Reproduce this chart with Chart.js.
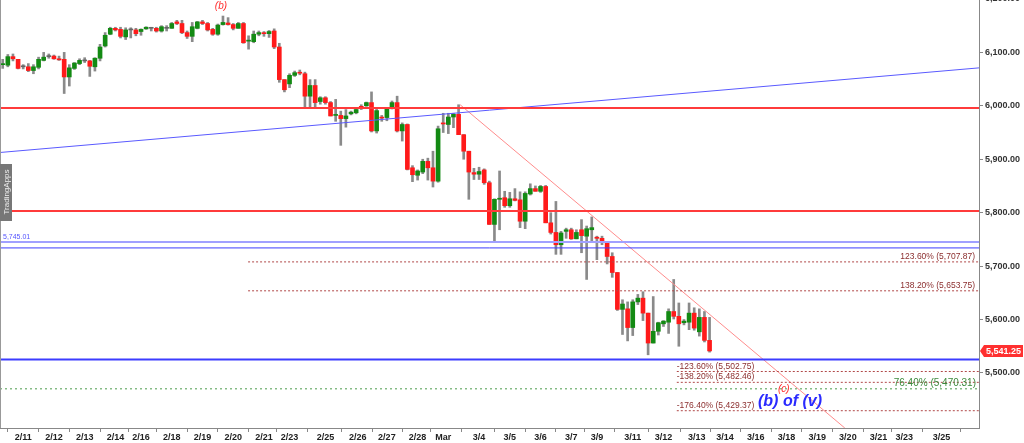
<!DOCTYPE html>
<html>
<head>
<meta charset="utf-8">
<script src="https://cdn.jsdelivr.net/npm/chart.js@4.4.1/dist/chart.umd.min.js"></script>
<style>
  html, body { margin: 0; padding: 0; background: #fff; }
  canvas { display: block; }
</style>
</head>
<body>
<canvas id="myChart" width="1024" height="443"></canvas>
<script>
// 4h candles, 2/11 -> 3/13
const opens = [6077, 6076, 6092, 6087, 6073, 6073, 6066, 6072, 6085, 6092,
  6093, 6088, 6087, 6054, 6070, 6079, 6084, 6084, 6073, 6089,
  6112, 6134, 6145, 6143, 6129, 6142, 6142, 6139, 6144, 6145,
  6145, 6140, 6145, 6145, 6157, 6154, 6137, 6130, 6145, 6157,
  6154, 6143, 6134, 6152, 6155, 6152, 6145, 6154, 6121, 6120,
  6134, 6136, 6135, 6140, 6110, 6049, 6041, 6057, 6062, 6060,
  6018, 6038, 6008, 6015, 6006, 5982, 5982, 5976, 5985, 5987,
  5999, 6000, 6006, 5953, 5978, 5978, 5996, 6006, 5953, 5965,
  5884, 5870, 5876, 5896, 5884, 5859, 5968, 5965, 5979, 5984,
  5946, 5915, 5875, 5872, 5880, 5856, 5778, 5825, 5828, 5813,
  5826, 5824, 5784, 5835, 5845, 5840, 5849, 5781, 5763, 5740,
  5765, 5768, 5751, 5768, 5756, 5768, 5754, 5752, 5744, 5718,
  5688, 5619, 5620, 5585, 5633, 5640, 5612, 5556, 5578, 5592,
  5595, 5615, 5606, 5594, 5595, 5612, 5577, 5604, 5561];
const highs = [6087, 6096, 6097, 6087, 6077, 6079, 6077, 6091, 6100, 6097,
  6095, 6093, 6100, 6077, 6081, 6088, 6090, 6085, 6090, 6115,
  6137, 6147, 6147, 6147, 6146, 6146, 6145, 6144, 6148, 6147,
  6147, 6150, 6150, 6156, 6160, 6160, 6140, 6156, 6158, 6160,
  6156, 6145, 6153, 6168, 6165, 6154, 6156, 6156, 6131, 6140,
  6140, 6139, 6141, 6144, 6117, 6049, 6060, 6065, 6067, 6063,
  6049, 6049, 6017, 6017, 6008, 6012, 5990, 5993, 5990, 5996,
  6002, 6007, 6026, 5995, 5982, 5996, 6009, 6018, 5968, 5966,
  5888, 5880, 5900, 5902, 5915, 5962, 5986, 5986, 5986, 6002,
  5946, 5915, 5883, 5885, 5882, 5859, 5826, 5878, 5840, 5838,
  5845, 5839, 5839, 5854, 5850, 5851, 5851, 5800, 5821, 5765,
  5771, 5771, 5768, 5787, 5775, 5792, 5756, 5756, 5745, 5725,
  5688, 5637, 5633, 5637, 5647, 5652, 5612, 5643, 5595, 5598,
  5620, 5675, 5631, 5600, 5631, 5622, 5620, 5615, 5604];
const lows = [6070, 6073, 6084, 6069, 6069, 6064, 6060, 6069, 6084, 6089,
  6087, 6085, 6023, 6037, 6068, 6077, 6081, 6055, 6065, 6084,
  6110, 6133, 6140, 6127, 6124, 6127, 6131, 6132, 6143, 6140,
  6138, 6138, 6140, 6145, 6152, 6135, 6126, 6120, 6144, 6152,
  6140, 6132, 6132, 6151, 6151, 6142, 6145, 6117, 6106, 6118,
  6131, 6130, 6128, 6107, 6044, 6026, 6034, 6055, 6058, 5998,
  5998, 5998, 6003, 6003, 5981, 5971, 5926, 5960, 5983, 5985,
  5993, 5999, 5951, 5949, 5971, 5972, 5994, 5951, 5934, 5880,
  5858, 5861, 5873, 5861, 5848, 5857, 5950, 5948, 5959, 5946,
  5900, 5825, 5862, 5862, 5853, 5778, 5745, 5768, 5810, 5810,
  5822, 5772, 5770, 5833, 5840, 5838, 5781, 5760, 5722, 5722,
  5752, 5750, 5751, 5725, 5675, 5746, 5712, 5740, 5704, 5679,
  5617, 5572, 5560, 5570, 5628, 5598, 5534, 5556, 5571, 5587,
  5574, 5601, 5550, 5590, 5581, 5580, 5569, 5558, 5539];
const closes = [6078, 6092, 6088, 6070, 6073, 6066, 6073, 6087, 6091, 6092,
  6088, 6086, 6054, 6071, 6080, 6085, 6084, 6074, 6089, 6110,
  6132, 6145, 6142, 6130, 6142, 6142, 6135, 6143, 6147, 6145,
  6140, 6148, 6145, 6154, 6154, 6137, 6130, 6148, 6157, 6154,
  6142, 6134, 6151, 6156, 6152, 6145, 6154, 6118, 6122, 6134,
  6137, 6135, 6139, 6110, 6049, 6030, 6057, 6062, 6061, 6018,
  6038, 6006, 6015, 6006, 5981, 5983, 5976, 5981, 5988, 5993,
  5995, 6006, 5953, 5991, 5977, 5994, 6006, 5953, 5965, 5881,
  5871, 5878, 5896, 5884, 5859, 5957, 5966, 5979, 5984, 5946,
  5915, 5876, 5872, 5877, 5856, 5778, 5825, 5827, 5813, 5826,
  5823, 5784, 5836, 5845, 5840, 5849, 5781, 5763, 5740, 5762,
  5768, 5751, 5763, 5757, 5770, 5772, 5752, 5744, 5718, 5688,
  5619, 5629, 5585, 5633, 5640, 5612, 5556, 5578, 5594, 5597,
  5615, 5606, 5592, 5597, 5612, 5584, 5604, 5561, 5541.25];

// date ticks, in candle-slot units
const tickPos = [4, 10, 16, 22, 27, 33, 39, 45, 51, 56, 63, 69.3, 75, 81, 86, 93, 99, 105, 111, 116,
  123, 129, 135.5, 141, 147, 153, 159, 165, 171, 176, 183.3];
const tickLabels = ['2/11', '2/12', '2/13', '2/14', '2/16', '2/18', '2/19', '2/20', '2/21', '2/23', '2/25',
  '2/26', '2/27', '2/28', 'Mar', '3/4', '3/5', '3/6', '3/7', '3/9', '3/11', '3/12', '3/13', '3/14',
  '3/16', '3/18', '3/19', '3/20', '3/21', '3/23', '3/25'];
const priceTicks = [5500, 5600, 5700, 5800, 5900, 6000, 6100, 6200];

// drawn levels
const redLevels = [5996, 5803];
const blueLevels = [5745.01, 5734, 5525];
const fibUpper = [5707.87, 5653.75];
const fibUpperPct = ['123.60%', '138.20%'];
const fibLower = [5502.75, 5482.46, 5429.37];
const fibLowerPct = ['-123.60%', '-138.20%', '-176.40%'];
const greenLevel = 5470.31;
const greenPct = '76.40%';
const blueTrend = [{x: -0.53, y: 5912.6}, {x: 190.6, y: 6071}];
const redTrend = [{x: 89.3, y: 6002}, {x: 164.4, y: 5397}];

const X_MIN = -0.53, X_MAX = 190.6;
const UP = '#138a13', DOWN = '#ff1a1a';

const fmt = (v) => v.toLocaleString('en-US', {minimumFractionDigits: 2, maximumFractionDigits: 2});
const candleColor = opens.map((o, i) => closes[i] > o ? UP : closes[i] < o ? DOWN : '#666');

const hline = (level, from, color, width, dash) => ({
  type: 'line',
  data: [{x: from, y: level}, {x: X_MAX, y: level}],
  borderColor: color,
  borderWidth: width,
  borderDash: dash || [],
  pointRadius: 0,
  order: 0
});

const datasets = [
  {
    type: 'bar',
    data: lows.map((l, i) => ({x: i, y: [l, highs[i]]})),
    backgroundColor: '#8a8a8a',
    barThickness: 2,
    order: 3
  },
  {
    type: 'bar',
    data: opens.map((o, i) => ({x: i, y: [o, closes[i]]})),
    backgroundColor: candleColor,
    barThickness: 4,
    minBarLength: 1,
    order: 2
  },
  hline(redLevels[0], X_MIN, '#ff3b3b', 2),
  hline(redLevels[1], X_MIN, '#ff3b3b', 2),
  hline(blueLevels[0], X_MIN, '#a0a0ff', 2),
  hline(blueLevels[1], X_MIN, '#3c3cff', 1),
  hline(blueLevels[2], X_MIN, '#3c3cff', 2),
  hline(fibUpper[0], 47.9, '#b04848', 1, [2, 2]),
  hline(fibUpper[1], 47.9, '#b04848', 1, [2, 2]),
  hline(fibLower[0], 131.6, '#b04848', 1, [2, 2]),
  hline(fibLower[1], 131.6, '#b04848', 1, [2, 2]),
  hline(fibLower[2], 131.6, '#b04848', 1, [2, 2]),
  hline(greenLevel, X_MIN, '#4a9a4a', 1, [2, 3]),
  {type: 'line', data: blueTrend, borderColor: '#5a5aff', borderWidth: 1, pointRadius: 0, order: 0},
  {type: 'line', data: redTrend, borderColor: '#ff8c8c', borderWidth: 1, pointRadius: 0, order: 0}
];

const overlay = {
  id: 'overlay',
  afterDraw(chart) {
    const {ctx, chartArea: a, scales: {x, y}} = chart;
    ctx.save();
    // left frame
    ctx.strokeStyle = '#999';
    ctx.lineWidth = 1;
    ctx.beginPath();
    ctx.moveTo(0.5, 0);
    ctx.lineTo(0.5, a.bottom);
    ctx.stroke();

    ctx.textBaseline = 'bottom';
    ctx.font = "8.5px 'Liberation Sans', Arial, sans-serif";
    ctx.fillStyle = '#8b2e2e';
    ctx.textAlign = 'right';
    fibUpper.forEach((v, i) => {
      ctx.fillText(fibUpperPct[i] + ' (' + fmt(v) + ')', a.right - 4, y.getPixelForValue(v) - 1);
    });
    ctx.textAlign = 'left';
    fibLower.forEach((v, i) => {
      ctx.fillText(fibLowerPct[i] + ' (' + fmt(v) + ')', x.getPixelForValue(131.6), y.getPixelForValue(v) - 1);
    });
    ctx.font = "10px 'Liberation Sans', Arial, sans-serif";
    ctx.fillStyle = '#3c8a3c';
    ctx.textAlign = 'right';
    ctx.fillText(greenPct + ' (' + fmt(greenLevel) + ')', a.right - 3, y.getPixelForValue(greenLevel) - 1);

    ctx.font = "7px 'Liberation Sans', Arial, sans-serif";
    ctx.fillStyle = '#5555ff';
    ctx.textAlign = 'left';
    ctx.fillText(fmt(blueLevels[0]), 3, y.getPixelForValue(blueLevels[0]) - 1);

    // wave labels
    ctx.textAlign = 'center';
    ctx.textBaseline = 'middle';
    ctx.font = "italic 10px 'Liberation Sans', Arial, sans-serif";
    ctx.fillStyle = '#ff3030';
    ctx.fillText('(b)', x.getPixelForValue(42.6), y.getPixelForValue(6187));
    ctx.fillText('(c)', x.getPixelForValue(152.5), y.getPixelForValue(5470));
    ctx.font = "bold italic 16px 'Liberation Sans', Arial, sans-serif";
    ctx.fillStyle = '#2a2aff';
    ctx.fillText('(b) of (v)', x.getPixelForValue(153.7), y.getPixelForValue(5446));

    // last price tag
    const last = closes[closes.length - 1];
    const py = Math.round(y.getPixelForValue(last));
    ctx.fillStyle = '#ff3030';
    ctx.beginPath();
    ctx.moveTo(a.right + 1, py);
    ctx.lineTo(a.right + 5, py - 6);
    ctx.lineTo(1023, py - 6);
    ctx.lineTo(1023, py + 6);
    ctx.lineTo(a.right + 5, py + 6);
    ctx.closePath();
    ctx.fill();
    ctx.fillStyle = '#fff';
    ctx.font = "bold 9px 'Liberation Sans', Arial, sans-serif";
    ctx.fillText(fmt(last), (a.right + 1024) / 2 + 2, py + 0.5);

    // watermark
    ctx.fillStyle = '#777';
    ctx.fillRect(0, 164, 12, 57);
    ctx.translate(6.5, 192);
    ctx.rotate(-Math.PI / 2);
    ctx.fillStyle = '#eee';
    ctx.font = "8px 'Liberation Sans', Arial, sans-serif";
    ctx.fillText('TradingApps', 0, 0);
    ctx.restore();
  }
};

const myChart = new Chart(document.getElementById('myChart'), {
  type: 'bar',
  data: {datasets},
  plugins: [overlay],
  options: {
    responsive: false,
    animation: false,
    devicePixelRatio: 1,
    layout: {padding: 0},
    datasets: {bar: {grouped: false}},
    plugins: {legend: {display: false}, tooltip: {enabled: false}},
    scales: {
      x: {
        type: 'linear',
        min: X_MIN,
        max: X_MAX,
        offset: false,
        grid: {drawOnChartArea: false, tickLength: 4, color: '#888'},
        border: {color: '#888'},
        ticks: {
          autoSkip: false,
          maxRotation: 0,
          padding: 0,
          color: '#222',
          font: {family: "'Liberation Sans', Arial, sans-serif", size: 9, weight: 'bold'},
          callback: (v) => tickLabels[tickPos.indexOf(v)]
        },
        afterBuildTicks: (s) => { s.ticks = tickPos.map(v => ({value: v})); },
        afterFit: (s) => { s.height = 15; s.paddingLeft = 0; s.paddingRight = 0; }
      },
      y: {
        position: 'right',
        min: 5397,
        max: 6198,
        grid: {drawOnChartArea: false, tickLength: 4, color: '#888'},
        border: {color: '#888'},
        ticks: {
          padding: 2,
          color: '#333',
          font: {family: "'Liberation Sans', Arial, sans-serif", size: 9, weight: 'bold'},
          callback: (v) => fmt(v)
        },
        afterBuildTicks: (s) => { s.ticks = priceTicks.map(v => ({value: v})); },
        afterFit: (s) => { s.width = 45; s.paddingTop = 0; s.paddingBottom = 0; }
      }
    }
  }
});
</script>
</body>
</html>
